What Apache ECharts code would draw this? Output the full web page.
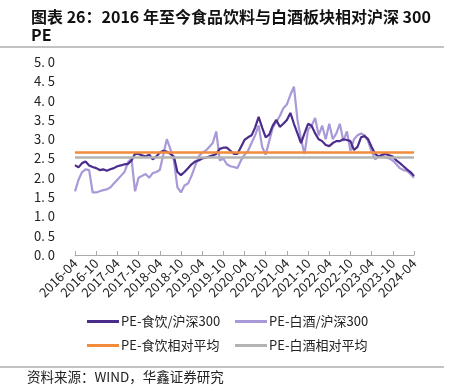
<!DOCTYPE html>
<html>
<head>
<meta charset="utf-8">
<script src="https://cdn.jsdelivr.net/npm/echarts@6/dist/echarts.min.js"></script>
<style>
    html, body { margin: 0; padding: 0; background: #fff; }
    #main { width: 453px; height: 390px; }
</style>
</head>
<body>
<div id="main"></div>
<script>
// 月度横轴 2016-04 ~ 2024-04
let months = [];
for (let y = 2016, m = 4; y < 2024 || (y === 2024 && m <= 4); m++) {
    if (m > 12) { m = 1; y++; }
    months.push(y + '-' + (m < 10 ? '0' + m : m));
}

// PE-食饮/沪深300
let foodPE = [
    2.33, 2.27, 2.38, 2.42, 2.32, 2.28, 2.25, 2.20, 2.22, 2.18, 2.22, 2.25,
    2.30, 2.32, 2.35, 2.36, 2.45, 2.62, 2.62, 2.58, 2.55, 2.60, 2.48, 2.55,
    2.65, 2.70, 2.68, 2.62, 2.55, 2.15, 2.07, 2.15, 2.25, 2.35, 2.42, 2.45,
    2.50, 2.52, 2.55, 2.58, 2.62, 2.75, 2.78, 2.78, 2.70, 2.62, 2.62, 2.80,
    2.98, 3.05, 3.10, 3.30, 3.58, 3.30, 3.05, 3.12, 3.35, 3.50, 3.32, 3.40,
    3.50, 3.68, 3.40, 3.15, 2.90, 3.15, 3.40, 3.35, 3.15, 3.00, 2.95, 2.85,
    2.82, 2.90, 2.95, 2.95, 3.00, 2.98, 2.95, 2.72, 2.80, 3.05, 3.08, 3.00,
    2.80, 2.62, 2.55, 2.60, 2.62, 2.58, 2.55, 2.45, 2.38, 2.30, 2.22, 2.15,
    2.05
];

// PE-白酒/沪深300
let liquorPE = [
    1.65, 1.95, 2.15, 2.22, 2.20, 1.62, 1.62, 1.65, 1.68, 1.70, 1.75, 1.85,
    1.95, 2.05, 2.15, 2.40, 2.50, 1.65, 2.00, 2.05, 2.10, 2.00, 2.12, 2.15,
    2.20, 2.60, 3.00, 2.75, 2.45, 1.75, 1.62, 1.80, 1.85, 2.05, 2.30, 2.55,
    2.65, 2.70, 2.80, 2.90, 3.20, 2.45, 2.50, 2.35, 2.30, 2.28, 2.25, 2.45,
    2.60, 2.70, 2.90, 3.10, 3.36, 2.80, 2.60, 2.95, 3.30, 3.45, 3.60, 3.80,
    3.90, 4.15, 4.36, 3.50, 3.00, 2.62, 3.25, 3.35, 3.55, 3.10, 3.35, 3.00,
    3.40, 3.00, 3.15, 3.40, 2.95, 3.20, 2.70, 3.00, 3.10, 3.15, 3.10, 2.95,
    2.68, 2.48, 2.55, 2.58, 2.52, 2.50, 2.45, 2.35, 2.25, 2.20, 2.18, 2.10,
    2.00
];

// 相对平均
let foodAvg = 2.66;
let liquorAvg = 2.53;

let names = ['PE-食饮/沪深300', 'PE-白酒/沪深300', 'PE-食饮相对平均', 'PE-白酒相对平均'];
let colors = ['#4b2c8c', '#a999d8', '#f28c3c', '#b3b3b3'];

let font = '"Noto Sans CJK SC", sans-serif';
let chart = echarts.init(document.getElementById('main'));

function legendAt(i, left, top) {
    return {
        data: [names[i]],
        left: left,
        top: top,
        icon: 'rect',
        itemWidth: 32,
        itemHeight: 3,
        itemGap: 0,
        padding: 0,
        textStyle: { fontFamily: font, fontSize: 13, color: '#222', padding: [0, 0, 0, -3] }
    };
}

function avgLine(name, value, color) {
    return {
        name: name,
        type: 'line',
        data: [],
        color: color,
        markLine: {
            silent: true,
            symbol: 'none',
            label: { show: false },
            lineStyle: { color: color, width: 2.5, type: 'solid' },
            data: [{ yAxis: value }]
        }
    };
}

let option = {
    animation: false,
    title: {
        text: '图表 26：2016 年至今食品饮料与白酒板块相对沪深 300\nPE',
        left: 26,
        top: 3,
        textStyle: { fontFamily: font, fontSize: 16, fontWeight: 'bold', color: '#111', lineHeight: 18 }
    },
    legend: [
        legendAt(0, 87, 315),
        legendAt(1, 235, 315),
        legendAt(2, 87, 339),
        legendAt(3, 235, 339)
    ],
    grid: { left: 75, right: 39, top: 62, bottom: 135 },
    xAxis: {
        type: 'category',
        data: months,
        boundaryGap: false,
        axisLine: { lineStyle: { color: '#aaa', width: 1 } },
        axisTick: { inside: true, length: 4, interval: 5, lineStyle: { color: '#aaa' } },
        axisLabel: { interval: 5, rotate: 45, margin: 6, fontFamily: font, fontSize: 13, color: '#222' },
        splitLine: { show: false }
    },
    yAxis: {
        type: 'value',
        min: 0,
        max: 5,
        interval: 0.5,
        axisLine: { show: false },
        axisTick: { show: false },
        splitLine: { show: false },
        axisLabel: {
            margin: 20,
            fontFamily: font,
            fontSize: 13,
            color: '#222',
            formatter: v => v.toFixed(1).replace('.', '. ')
        }
    },
    series: [
        {
            name: names[1],
            type: 'line',
            data: liquorPE,
            color: colors[1],
            symbol: 'none',
            lineStyle: { width: 2.2, color: colors[1] }
        },
        {
            name: names[0],
            type: 'line',
            data: foodPE,
            color: colors[0],
            symbol: 'none',
            lineStyle: { width: 2.2, color: colors[0] }
        },
        avgLine(names[2], foodAvg, colors[2]),
        avgLine(names[3], liquorAvg, colors[3])
    ],
    graphic: [
        { type: 'line', shape: { x1: 0, y1: 47, x2: 444, y2: 47 }, style: { stroke: '#888', lineWidth: 1.2 } },
        { type: 'line', shape: { x1: 0, y1: 367, x2: 444, y2: 367 }, style: { stroke: '#888', lineWidth: 1.2 } },
        {
            type: 'text', left: 27, top: 370,
            style: { text: '资料来源：WIND，华鑫证券研究', font: '13.5px ' + font, fill: '#222' }
        }
    ]
};

chart.setOption(option);
</script>
</body>
</html>
